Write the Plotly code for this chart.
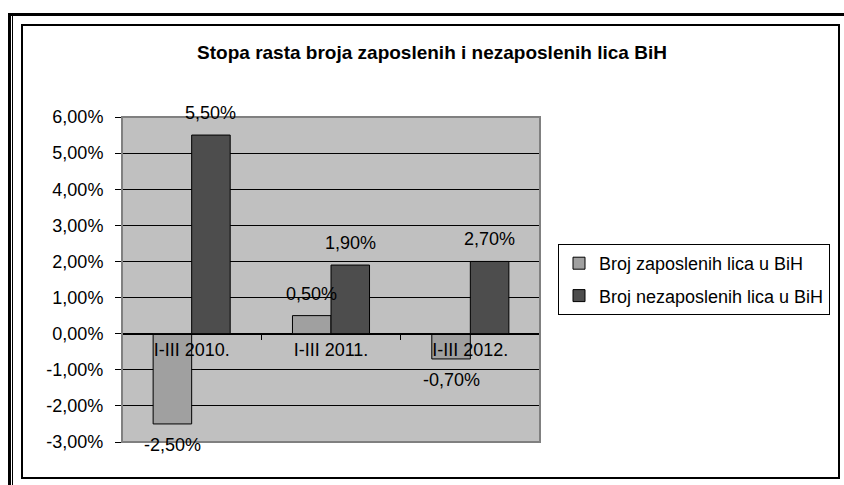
import plotly.graph_objects as go

# ---- data ----
categories = ["I-III 2010.", "I-III 2011.", "I-III 2012."]
series_names = ["Broj zaposlenih lica u BiH", "Broj nezaposlenih lica u BiH"]
zaposleni = [-2.5, 0.5, -0.7]        # percent (bar heights as drawn)
nezaposleni = [5.5, 1.9, 2.0]        # percent (bar heights as drawn)
zaposleni_labels = ["-2,50%", "0,50%", "-0,70%"]
nezaposleni_labels = ["5,50%", "1,90%", "2,70%"]
y_tick_vals = [-3, -2, -1, 0, 1, 2, 3, 4, 5, 6]
y_tick_text = ["-3,00%", "-2,00%", "-1,00%", "0,00%", "1,00%", "2,00%",
               "3,00%", "4,00%", "5,00%", "6,00%"]
title_text = "Stopa rasta broja zaposlenih i nezaposlenih lica BiH"

# ---- layout geometry (pixels) ----
W, H = 844, 485
L, R, T, B = 122, 540, 117, 442   # plot area


def px(x):
    return (x - L) / (R - L)


def py(y):
    return (B - y) / (B - T)


FONT = "Arial, Liberation Sans, sans-serif"
colors = ["#A0A0A0", "#4D4D4D"]

fig = go.Figure()
for name, vals, c, grp in zip(series_names, [zaposleni, nezaposleni], colors, ["a", "b"]):
    fig.add_trace(go.Bar(
        x=categories, y=vals, name=name, legendgroup=grp,
        marker=dict(color=c, line=dict(color="black", width=1)),
    ))

annotations = []
for vals, labels, xs in [(zaposleni, zaposleni_labels, -19.3), (nezaposleni, nezaposleni_labels, 19.3)]:
    for cat, v, lab in zip(categories, vals, labels):
        annotations.append(dict(
            x=cat, y=v, xref="x", yref="y", text=lab, showarrow=False,
            xshift=xs, yshift=22 if v >= 0 else -21,
            font=dict(family=FONT, size=18, color="black"),
        ))

shapes = [
    # plot-area border
    dict(type="rect", xref="paper", yref="paper", x0=0, x1=1, y0=0, y1=1,
         line=dict(color="#808080", width=2)),
    # inner frame
    dict(type="rect", xref="paper", yref="paper", x0=px(22), x1=px(839), y0=py(25), y1=py(478),
         line=dict(color="black", width=2)),
    # outer frame: thick top line
    dict(type="line", xref="paper", yref="paper", x0=px(8), x1=px(844), y0=py(14.5), y1=py(14.5),
         line=dict(color="black", width=3)),
    # outer frame: double left line
    dict(type="line", xref="paper", yref="paper", x0=px(9.5), x1=px(9.5), y0=py(13), y1=py(485),
         line=dict(color="black", width=3)),
    dict(type="line", xref="paper", yref="paper", x0=px(12.5), x1=px(12.5), y0=py(16), y1=py(485),
         line=dict(color="black", width=1)),
]

fig.update_layout(
    width=W, height=H,
    margin=dict(l=L, r=W - R, t=T, b=H - B, autoexpand=False),
    paper_bgcolor="white", plot_bgcolor="#C0C0C0",
    barmode="group", bargap=0.447, bargroupgap=0,
    font=dict(family=FONT, size=18, color="black"),
    title=dict(text="<b>" + title_text + "</b>", x=432 / W, xref="container", xanchor="center",
               y=1 - 52 / H, yref="container", yanchor="middle",
               font=dict(family=FONT, size=19, color="black")),
    legend=dict(x=px(558), y=py(244), xanchor="left", yanchor="top",
                bordercolor="black", borderwidth=1, bgcolor="white",
                font=dict(family=FONT, size=18, color="black"),
                traceorder="grouped", tracegroupgap=6),
    xaxis=dict(type="category", range=[-0.5, 2.5], anchor="free", position=3 / 9,
               showline=True, linecolor="black", linewidth=1,
               ticks="outside", tickson="boundaries", ticklen=5, tickcolor="black",
               showgrid=False, tickfont=dict(family=FONT, size=18, color="black")),
    yaxis=dict(range=[-3, 6], tickvals=y_tick_vals, ticktext=y_tick_text,
               ticks="outside", ticklen=6, tickcolor="black", ticklabelstandoff=8,
               showgrid=True, gridcolor="black", gridwidth=1, zeroline=False,
               showline=False, tickfont=dict(family=FONT, size=18, color="black")),
    annotations=annotations,
    shapes=shapes,
    showlegend=True,
)

fig.write_html("out.html", config={"displayModeBar": False},
               post_script="document.body.style.margin='0';document.body.style.overflow='hidden';")
